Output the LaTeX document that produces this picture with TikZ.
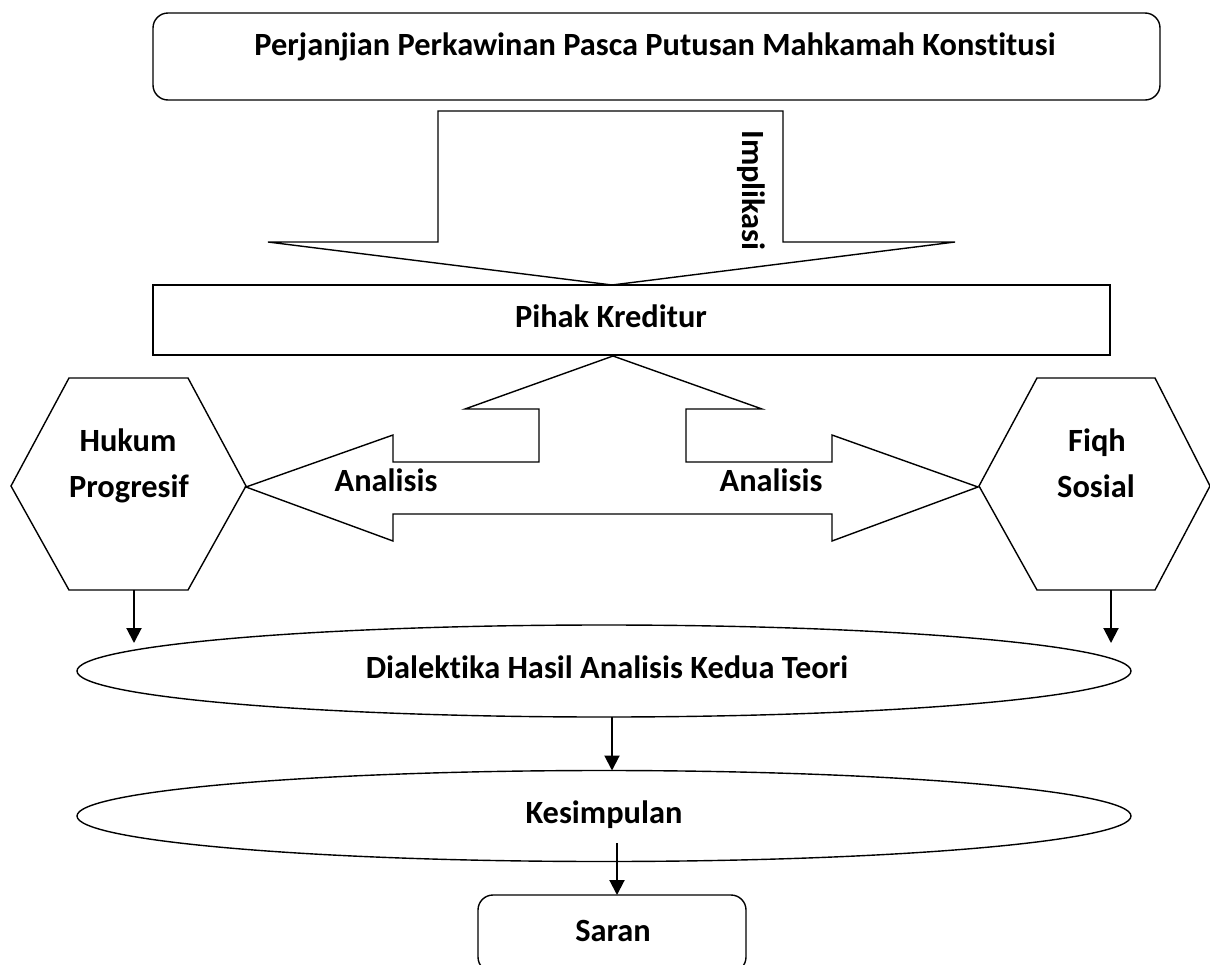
\documentclass[tikz,border=0pt]{standalone}
\usepackage{fontspec}
\setmainfont{Carlito}[Ligatures={NoCommon}]
\usetikzlibrary{arrows.meta,shapes.geometric}
\tikzset{
  shp/.style={draw, line width=0.7pt, line join=miter},
  boxn/.style={shp, inner sep=0pt, outer sep=0pt},
  lbl/.style={font=\bfseries\fontsize{16.2}{19}\selectfont, inner sep=0pt, anchor=base},
  arr/.style={draw, line width=1pt, -{Triangle[length=7.5pt,width=7.5pt]}},
}
\begin{document}
\begin{tikzpicture}[x=0.5pt,y=-0.5pt]
\useasboundingbox (0,0) rectangle (1210,964);
\clip (0,0) rectangle (1210,964);

% top box
\node[boxn, rounded corners=7.5pt, minimum width=503.5pt, minimum height=43.5pt] (title) at (656.5,56.5) {};
\node[lbl] (titletxt) at (655,55) {Perjanjian Perkawinan Pasca Putusan Mahkamah Konstitusi};

% down block arrow
\draw[shp] (438,111) -- (783,111) -- (783,242) -- (955,242) -- (612,285) -- (268,242) -- (438,242) -- cycle;
\node[lbl, rotate=-90, anchor=base west] (impl) at (742,130) {Implikasi};

% Pihak Kreditur
\node[boxn, minimum width=478.5pt, minimum height=35pt] (pihak) at (631.5,320) {};
\node[lbl] (pihaktxt) at (611,327) {Pihak Kreditur};

% up / left-right block arrow
\draw[shp] (613,356) -- (762,409) -- (686,409) -- (686,462) -- (832,462) -- (832,435) -- (978,487)
  -- (832,541) -- (832,514) -- (393,514) -- (393,541) -- (246,487) -- (393,435) -- (393,462)
  -- (539,462) -- (539,409) -- (465,409) -- cycle;
\node[lbl] (an1) at (386,491) {Analisis};
\node[lbl] (an2) at (771,491) {Analisis};

% hexagons
\coordinate (hl1) at (69,378); \coordinate (hl2) at (188,378); \coordinate (hl3) at (246,486);
\coordinate (hl4) at (188,590); \coordinate (hl5) at (69,590); \coordinate (hl6) at (11,486);
\draw[shp] (hl1) -- (hl2) -- (hl3) -- (hl4) -- (hl5) -- (hl6) -- cycle;
\node[lbl] (hk1) at (128,451) {Hukum};
\node[lbl] (hk2) at (129,497) {Progresif};

\coordinate (hr1) at (1037,378); \coordinate (hr2) at (1155,378); \coordinate (hr3) at (1210,486);
\coordinate (hr4) at (1155,590); \coordinate (hr5) at (1037,590); \coordinate (hr6) at (979,486);
\draw[shp] (hr1) -- (hr2) -- (hr3) -- (hr4) -- (hr5) -- (hr6) -- cycle;
\node[lbl] (fq1) at (1097,451) {Fiqh};
\node[lbl] (fq2) at (1096,497) {Sosial};

% ellipses
\node[boxn, ellipse, minimum width=527pt, minimum height=46pt] (e1) at (604,671) {};
\node[lbl] (e1txt) at (607,678) {Dialektika Hasil Analisis Kedua Teori};
\node[boxn, ellipse, minimum width=527pt, minimum height=45.5pt] (e2) at (604,816) {};
\node[lbl] (e2txt) at (604,823) {Kesimpulan};

% Saran
\node[boxn, rounded corners=7.5pt, minimum width=134pt, minimum height=38.5pt] (saran) at (612,933.5) {};
\node[lbl] (sarantxt) at (613,941) {Saran};

% connectors
\coordinate (hlb) at (134,590); \coordinate (hle) at (134,643);
\coordinate (hrb) at (1111,590); \coordinate (hre) at (1111,643);
\draw[arr] (hlb) -- (hle);
\draw[arr] (hrb) -- (hre);
\draw[arr] ([xshift=4pt]e1.south) -- ([xshift=4pt]e2.north);
\coordinate (ks) at (617,843);
\draw[arr] (ks) -- (ks |- saran.north);
\end{tikzpicture}
\end{document}
